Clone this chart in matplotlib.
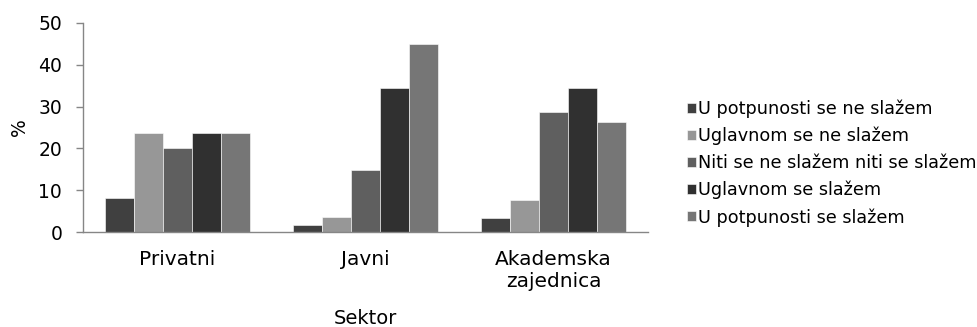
import matplotlib
matplotlib.use("Agg")
import matplotlib.pyplot as plt
import numpy as np

plt.rcParams['font.family'] = ['DejaVu Sans']

sectors = ["Privatni", "Javni", "Akademska\nzajednica"]
answers = [
    "U potpunosti se ne slažem",
    "Uglavnom se ne slažem",
    "Niti se ne slažem niti se slažem",
    "Uglavnom se slažem",
    "U potpunosti se slažem",
]
u_potpunosti_ne = [8.1, 1.7, 3.3]
uglavnom_ne = [23.8, 3.5, 7.6]
niti_niti = [20.0, 14.9, 28.6]
uglavnom_da = [23.8, 34.4, 34.4]
u_potpunosti_da = [23.8, 45.0, 26.2]
series = [u_potpunosti_ne, uglavnom_ne, niti_niti, uglavnom_da, u_potpunosti_da]
colors = ["#404040", "#979797", "#5f5f5f", "#303030", "#767676"]

yticks = [0, 10, 20, 30, 40, 50]

fig = plt.figure(figsize=(9.77, 3.27), dpi=100)
ax = fig.add_axes([0.085, 0.2905, 0.578, 0.6392])

x = np.arange(len(sectors))
n = len(series)
group = 0.77
w = group / n
handles = []
for i, (vals, c) in enumerate(zip(series, colors)):
    offs = -group / 2 + w * (i + 0.5)
    b = ax.bar(x + offs, vals, width=w, color=c, edgecolor="white", linewidth=0.4)
    handles.append(b)

ax.set_xlim(-0.5, len(sectors) - 0.5)
ax.set_ylim(0, 50)
ax.set_yticks(yticks)
ax.set_yticklabels([str(t) for t in yticks], fontsize=13.5)
ax.set_xticks(x)
ax.set_xticklabels(sectors, fontsize=14.5, linespacing=1.22)
ax.tick_params(axis="x", length=0, pad=13)
ax.tick_params(axis="y", length=5, width=1, color="#868686", pad=10)

for s in ["top", "right"]:
    ax.spines[s].set_visible(False)
for s in ["left", "bottom"]:
    ax.spines[s].set_color("#868686")
    ax.spines[s].set_linewidth(1)

fig.text(20 / 977, 1 - 127.5 / 327, "%", fontsize=13.5, rotation=90,
         ha="center", va="center")
fig.text(0.374, 0.010, "Sektor", fontsize=14, ha="center", va="baseline")

fig.legend(handles, answers, loc="upper left", bbox_to_anchor=(0.703, 0.696),
           frameon=False, fontsize=12.7, handlelength=0.5, handleheight=0.5,
           handletextpad=0.15, labelspacing=0.5, borderaxespad=0,
           borderpad=0)

fig.savefig("out.png", dpi=100)
